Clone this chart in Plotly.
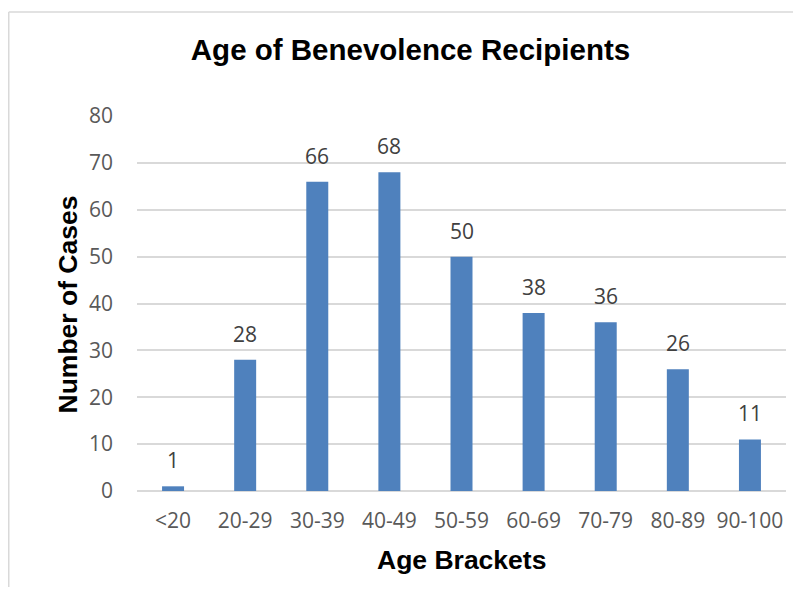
import plotly.graph_objects as go

categories = ["<20", "20-29", "30-39", "40-49", "50-59", "60-69", "70-79", "80-89", "90-100"]
cases = [1, 28, 66, 68, 50, 38, 36, 26, 11]
y_ticks = [0, 10, 20, 30, 40, 50, 60, 70, 80]

# page body has an 8px margin on every side, so the figure is drawn smaller and offset
W, H = 785, 579
L, R, T, B = 129, 7, 108, 96
pw, ph = W - L - R, H - T - B

fig = go.Figure(go.Bar(
    x=categories, y=cases,
    marker=dict(color="#4F81BD", line=dict(width=0)),
    hoverinfo="skip",
))

for c, v in zip(categories, cases):
    fig.add_annotation(x=c, y=v, text=str(v), showarrow=False,
                       xref="x", yref="y", yanchor="middle", yshift=26,
                       font=dict(family="Open Sans", size=21, color="#404040"))

fig.add_annotation(text="<b>Number of Cases</b>", textangle=-90, showarrow=False,
                   xref="paper", yref="paper", x=(59 - L) / pw, y=(483 - 296.5) / ph,
                   xanchor="center", yanchor="middle",
                   font=dict(family="Liberation Sans", size=26.5, color="#000000"))
fig.add_annotation(text="<b>Age Brackets</b>", showarrow=False,
                   xref="paper", yref="paper", x=(453 - L) / pw, y=(483 - 552) / ph,
                   xanchor="center", yanchor="middle",
                   font=dict(family="Liberation Sans", size=26.5, color="#000000"))

# chart border (top and left edges visible in the crop)
bx0 = (0.75 - L) / pw
by1 = (483 - 4) / ph
fig.add_shape(type="line", xref="paper", yref="paper",
              x0=bx0, x1=(W + 20 - L) / pw, y0=by1, y1=by1,
              line=dict(color="#d9d9d9", width=1.5), layer="below")
fig.add_shape(type="line", xref="paper", yref="paper",
              x0=bx0, x1=bx0, y0=(483 - (H + 20)) / ph, y1=by1,
              line=dict(color="#d9d9d9", width=1.5), layer="below")

fig.update_layout(
    width=W, height=H,
    margin=dict(l=L, r=R, t=T, b=B, autoexpand=False),
    paper_bgcolor="white", plot_bgcolor="white",
    bargap=0.695,
    showlegend=False,
    title=dict(text="<b>Age of Benevolence Recipients</b>", x=402.5 / W, xanchor="center",
               y=1 - 42 / H, yanchor="middle", yref="container",
               font=dict(family="Liberation Sans", size=29.5, color="#000000")),
    xaxis=dict(showgrid=False, showline=False, zeroline=False, ticks="",
               tickfont=dict(family="Open Sans", size=21, color="#595959"),
               ticklabelstandoff=15),
    yaxis=dict(range=[0, 80], tickvals=y_ticks, showgrid=True, gridcolor="#d9d9d9",
               gridwidth=1.5, zeroline=True, zerolinecolor="#d9d9d9", zerolinewidth=1.5,
               showline=False, ticks="",
               tickfont=dict(family="Open Sans", size=21, color="#595959"),
               ticklabelstandoff=23),
)

fig.write_html("out.html")
